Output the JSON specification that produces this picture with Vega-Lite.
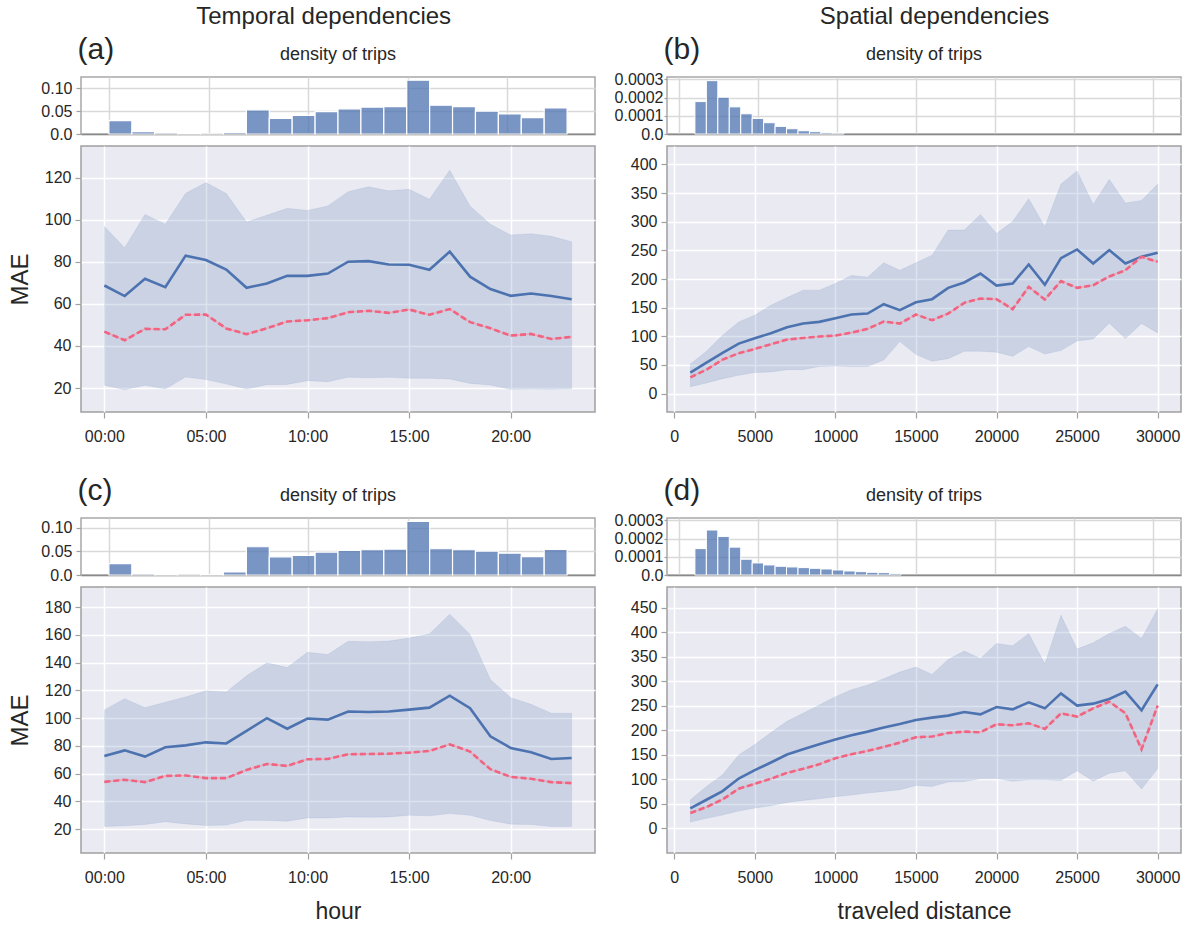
{
 "$schema": "https://vega.github.io/schema/vega-lite/v6.json",
 "padding": {"left": 7, "top": 5, "right": 2, "bottom": 2},
 "background": "white",
 "datasets": {
  "histA": [
   {"b0": 0, "b1": 1.15, "d": 0.0294}, {"b0": 1.15, "b1": 2.3, "d": 0.005}, {"b0": 2.3, "b1": 3.45, "d": 0.003},
   {"b0": 3.45, "b1": 4.6, "d": 0.001}, {"b0": 4.6, "b1": 5.75, "d": 0.0005}, {"b0": 5.75, "b1": 6.9, "d": 0.0035},
   {"b0": 6.9, "b1": 8.05, "d": 0.053}, {"b0": 8.05, "b1": 9.2, "d": 0.034}, {"b0": 9.2, "b1": 10.35, "d": 0.041},
   {"b0": 10.35, "b1": 11.5, "d": 0.049}, {"b0": 11.5, "b1": 12.65, "d": 0.055}, {"b0": 12.65, "b1": 13.8, "d": 0.059},
   {"b0": 13.8, "b1": 14.95, "d": 0.060}, {"b0": 14.95, "b1": 16.1, "d": 0.118}, {"b0": 16.1, "b1": 17.25, "d": 0.063},
   {"b0": 17.25, "b1": 18.4, "d": 0.060}, {"b0": 18.4, "b1": 19.55, "d": 0.050}, {"b0": 19.55, "b1": 20.7, "d": 0.044},
   {"b0": 20.7, "b1": 21.85, "d": 0.036}, {"b0": 21.85, "b1": 23, "d": 0.057}
  ],
  "histC": [
   {"b0": 0, "b1": 1.15, "d": 0.0243}, {"b0": 1.15, "b1": 2.3, "d": 0.003}, {"b0": 2.3, "b1": 3.45, "d": 0.001},
   {"b0": 3.45, "b1": 4.6, "d": 0.0003}, {"b0": 4.6, "b1": 5.75, "d": 0.0008}, {"b0": 5.75, "b1": 6.9, "d": 0.0064},
   {"b0": 6.9, "b1": 8.05, "d": 0.060}, {"b0": 8.05, "b1": 9.2, "d": 0.0386}, {"b0": 9.2, "b1": 10.35, "d": 0.0414},
   {"b0": 10.35, "b1": 11.5, "d": 0.0486}, {"b0": 11.5, "b1": 12.65, "d": 0.052}, {"b0": 12.65, "b1": 13.8, "d": 0.0536},
   {"b0": 13.8, "b1": 14.95, "d": 0.055}, {"b0": 14.95, "b1": 16.1, "d": 0.1136}, {"b0": 16.1, "b1": 17.25, "d": 0.0557},
   {"b0": 17.25, "b1": 18.4, "d": 0.0536}, {"b0": 18.4, "b1": 19.55, "d": 0.0507}, {"b0": 19.55, "b1": 20.7, "d": 0.0464},
   {"b0": 20.7, "b1": 21.85, "d": 0.039}, {"b0": 21.85, "b1": 23, "d": 0.0543}
  ],
  "histB": [
   {"b0": 1000, "b1": 1725, "d": 0.000178}, {"b0": 1725, "b1": 2450, "d": 0.000293}, {"b0": 2450, "b1": 3175, "d": 0.000202},
   {"b0": 3175, "b1": 3900, "d": 0.000149}, {"b0": 3900, "b1": 4625, "d": 0.000111}, {"b0": 4625, "b1": 5350, "d": 0.0000855},
   {"b0": 5350, "b1": 6075, "d": 0.000062}, {"b0": 6075, "b1": 6800, "d": 0.0000418}, {"b0": 6800, "b1": 7525, "d": 0.000029},
   {"b0": 7525, "b1": 8250, "d": 0.000018}, {"b0": 8250, "b1": 8975, "d": 0.0000127}, {"b0": 8975, "b1": 9700, "d": 0.0000073},
   {"b0": 9700, "b1": 10425, "d": 0.0000055}
  ],
  "histD": [
   {"b0": 1000, "b1": 1725, "d": 0.000145}, {"b0": 1725, "b1": 2450, "d": 0.000247}, {"b0": 2450, "b1": 3175, "d": 0.000212},
   {"b0": 3175, "b1": 3900, "d": 0.000153}, {"b0": 3900, "b1": 4625, "d": 0.0000865}, {"b0": 4625, "b1": 5350, "d": 0.0000663},
   {"b0": 5350, "b1": 6075, "d": 0.0000552}, {"b0": 6075, "b1": 6800, "d": 0.0000479}, {"b0": 6800, "b1": 7525, "d": 0.0000442},
   {"b0": 7525, "b1": 8250, "d": 0.0000405}, {"b0": 8250, "b1": 8975, "d": 0.0000368}, {"b0": 8975, "b1": 9700, "d": 0.0000331},
   {"b0": 9700, "b1": 10425, "d": 0.0000276}, {"b0": 10425, "b1": 11150, "d": 0.0000221}, {"b0": 11150, "b1": 11875, "d": 0.0000184},
   {"b0": 11875, "b1": 12600, "d": 0.0000147}, {"b0": 12600, "b1": 13325, "d": 0.0000129}, {"b0": 13325, "b1": 14050, "d": 0.0000074}
  ],
  "mainA": [
   {"x": 0, "blue": 68.7, "red": 46.8, "lo": 21.3, "hi": 96.8},
   {"x": 1, "blue": 63.7, "red": 42.7, "lo": 19.2, "hi": 86.7},
   {"x": 2, "blue": 71.9, "red": 48.1, "lo": 21.3, "hi": 102.5},
   {"x": 3, "blue": 67.9, "red": 47.9, "lo": 19.5, "hi": 97.8},
   {"x": 4, "blue": 82.9, "red": 54.8, "lo": 25.2, "hi": 112.5},
   {"x": 5, "blue": 80.8, "red": 54.9, "lo": 24.0, "hi": 117.6},
   {"x": 6, "blue": 76.3, "red": 48.3, "lo": 21.9, "hi": 112.4},
   {"x": 7, "blue": 67.6, "red": 45.6, "lo": 19.5, "hi": 98.9},
   {"x": 8, "blue": 69.7, "red": 48.4, "lo": 21.6, "hi": 102.1},
   {"x": 9, "blue": 73.3, "red": 51.6, "lo": 21.7, "hi": 105.4},
   {"x": 10, "blue": 73.3, "red": 52.2, "lo": 23.5, "hi": 104.4},
   {"x": 11, "blue": 74.4, "red": 53.2, "lo": 23.0, "hi": 106.5},
   {"x": 12, "blue": 80.0, "red": 56.0, "lo": 25.1, "hi": 113.3},
   {"x": 13, "blue": 80.3, "red": 56.7, "lo": 24.9, "hi": 115.6},
   {"x": 14, "blue": 78.7, "red": 55.7, "lo": 25.1, "hi": 113.7},
   {"x": 15, "blue": 78.6, "red": 57.3, "lo": 24.6, "hi": 114.4},
   {"x": 16, "blue": 76.2, "red": 54.8, "lo": 24.6, "hi": 109.7},
   {"x": 17, "blue": 84.8, "red": 57.5, "lo": 24.3, "hi": 123.5},
   {"x": 18, "blue": 72.9, "red": 51.3, "lo": 22.2, "hi": 106.5},
   {"x": 19, "blue": 67.0, "red": 48.4, "lo": 21.4, "hi": 97.8},
   {"x": 20, "blue": 63.8, "red": 44.9, "lo": 19.4, "hi": 92.7},
   {"x": 21, "blue": 64.9, "red": 45.7, "lo": 19.5, "hi": 93.3},
   {"x": 22, "blue": 63.7, "red": 43.3, "lo": 19.4, "hi": 92.1},
   {"x": 23, "blue": 62.2, "red": 44.3, "lo": 19.7, "hi": 89.5}
  ],
  "mainC": [
   {"x": 0, "blue": 72.8, "red": 54.1, "lo": 21.9, "hi": 106.0},
   {"x": 1, "blue": 76.8, "red": 55.6, "lo": 22.4, "hi": 114.1},
   {"x": 2, "blue": 72.3, "red": 53.9, "lo": 23.3, "hi": 107.6},
   {"x": 3, "blue": 79.0, "red": 58.4, "lo": 25.3, "hi": 111.5},
   {"x": 4, "blue": 80.4, "red": 58.7, "lo": 23.8, "hi": 115.3},
   {"x": 5, "blue": 82.6, "red": 56.8, "lo": 22.6, "hi": 119.8},
   {"x": 6, "blue": 81.8, "red": 56.8, "lo": 22.9, "hi": 118.9},
   {"x": 7, "blue": 90.9, "red": 62.7, "lo": 26.4, "hi": 130.6},
   {"x": 8, "blue": 100.0, "red": 67.0, "lo": 26.2, "hi": 139.9},
   {"x": 9, "blue": 92.4, "red": 65.6, "lo": 25.7, "hi": 136.5},
   {"x": 10, "blue": 99.8, "red": 70.4, "lo": 28.1, "hi": 147.5},
   {"x": 11, "blue": 99.0, "red": 70.6, "lo": 28.1, "hi": 145.9},
   {"x": 12, "blue": 104.8, "red": 74.0, "lo": 28.8, "hi": 155.4},
   {"x": 13, "blue": 104.5, "red": 74.2, "lo": 28.6, "hi": 155.2},
   {"x": 14, "blue": 104.8, "red": 74.4, "lo": 28.8, "hi": 155.6},
   {"x": 15, "blue": 106.2, "red": 75.2, "lo": 30.0, "hi": 157.8},
   {"x": 16, "blue": 107.6, "red": 76.4, "lo": 29.6, "hi": 160.7},
   {"x": 17, "blue": 116.2, "red": 81.1, "lo": 31.2, "hi": 175.0},
   {"x": 18, "blue": 107.2, "red": 75.9, "lo": 30.0, "hi": 160.4},
   {"x": 19, "blue": 86.9, "red": 63.2, "lo": 26.2, "hi": 127.9},
   {"x": 20, "blue": 78.5, "red": 57.7, "lo": 23.6, "hi": 114.8},
   {"x": 21, "blue": 75.4, "red": 56.3, "lo": 23.3, "hi": 110.0},
   {"x": 22, "blue": 70.6, "red": 53.9, "lo": 21.9, "hi": 103.6},
   {"x": 23, "blue": 71.3, "red": 53.2, "lo": 21.9, "hi": 103.6}
  ],
  "mainB": [
   {"x": 1000, "blue": 36.7, "red": 28.5, "lo": 12.2, "hi": 51.8},
   {"x": 2000, "blue": 54.0, "red": 41.9, "lo": 18.6, "hi": 73.9},
   {"x": 3000, "blue": 71.0, "red": 59.4, "lo": 26.2, "hi": 101.9},
   {"x": 4000, "blue": 87.3, "red": 70.5, "lo": 32.0, "hi": 125.2},
   {"x": 5000, "blue": 96.7, "red": 78.0, "lo": 36.7, "hi": 136.8},
   {"x": 6000, "blue": 105.4, "red": 86.2, "lo": 37.8, "hi": 154.3},
   {"x": 7000, "blue": 115.9, "red": 94.3, "lo": 41.9, "hi": 167.7},
   {"x": 8000, "blue": 122.3, "red": 97.2, "lo": 41.9, "hi": 180.5},
   {"x": 9000, "blue": 125.2, "red": 99.6, "lo": 47.2, "hi": 180.5},
   {"x": 10000, "blue": 131.6, "red": 101.3, "lo": 48.3, "hi": 192.1},
   {"x": 11000, "blue": 138.0, "red": 106.5, "lo": 47.2, "hi": 206.1},
   {"x": 12000, "blue": 139.7, "red": 113.0, "lo": 47.2, "hi": 203.2},
   {"x": 13000, "blue": 156.0, "red": 125.8, "lo": 58.8, "hi": 228.2},
   {"x": 14000, "blue": 145.6, "red": 122.3, "lo": 90.8, "hi": 215.4},
   {"x": 15000, "blue": 159.5, "red": 138.0, "lo": 68.1, "hi": 228.2},
   {"x": 16000, "blue": 164.8, "red": 128.1, "lo": 56.5, "hi": 241.6},
   {"x": 17000, "blue": 184.6, "red": 139.7, "lo": 61.1, "hi": 285.3},
   {"x": 18000, "blue": 193.9, "red": 158.4, "lo": 73.9, "hi": 285.3},
   {"x": 19000, "blue": 209.6, "red": 165.9, "lo": 73.9, "hi": 312.7},
   {"x": 20000, "blue": 188.6, "red": 164.8, "lo": 72.2, "hi": 279.5},
   {"x": 21000, "blue": 192.1, "red": 147.3, "lo": 65.2, "hi": 300.4},
   {"x": 22000, "blue": 225.3, "red": 186.3, "lo": 82.1, "hi": 340.0},
   {"x": 23000, "blue": 189.8, "red": 164.2, "lo": 69.3, "hi": 291.1},
   {"x": 24000, "blue": 236.4, "red": 196.2, "lo": 75.1, "hi": 365.6},
   {"x": 25000, "blue": 251.5, "red": 184.6, "lo": 92.0, "hi": 388.4},
   {"x": 26000, "blue": 227.1, "red": 189.2, "lo": 95.5, "hi": 330.1},
   {"x": 27000, "blue": 250.4, "red": 204.4, "lo": 122.9, "hi": 373.8},
   {"x": 28000, "blue": 227.1, "red": 215.4, "lo": 96.1, "hi": 332.5},
   {"x": 29000, "blue": 238.7, "red": 238.7, "lo": 122.3, "hi": 337.1},
   {"x": 30000, "blue": 245.7, "red": 230.0, "lo": 106.0, "hi": 365.6}
  ],
  "mainD": [
   {"x": 1000, "blue": 40.0, "red": 30.5, "lo": 12.2, "hi": 57.7},
   {"x": 2000, "blue": 57.7, "red": 42.8, "lo": 19.7, "hi": 84.8},
   {"x": 3000, "blue": 75.3, "red": 58.4, "lo": 26.5, "hi": 108.6},
   {"x": 4000, "blue": 101.1, "red": 80.1, "lo": 34.6, "hi": 149.3},
   {"x": 5000, "blue": 118.1, "red": 90.3, "lo": 40.7, "hi": 170.4},
   {"x": 6000, "blue": 133.7, "red": 100.5, "lo": 45.5, "hi": 194.8},
   {"x": 7000, "blue": 150.0, "red": 112.7, "lo": 52.3, "hi": 217.9},
   {"x": 8000, "blue": 160.9, "red": 120.8, "lo": 56.3, "hi": 234.2},
   {"x": 9000, "blue": 171.0, "red": 130.3, "lo": 59.7, "hi": 251.1},
   {"x": 10000, "blue": 180.5, "red": 142.5, "lo": 63.8, "hi": 268.1},
   {"x": 11000, "blue": 189.4, "red": 150.7, "lo": 67.2, "hi": 282.4},
   {"x": 12000, "blue": 196.8, "red": 157.5, "lo": 71.3, "hi": 291.9},
   {"x": 13000, "blue": 205.0, "red": 165.6, "lo": 74.7, "hi": 304.8},
   {"x": 14000, "blue": 212.4, "red": 174.4, "lo": 78.1, "hi": 318.3},
   {"x": 15000, "blue": 220.6, "red": 185.3, "lo": 86.9, "hi": 328.5},
   {"x": 16000, "blue": 225.3, "red": 186.7, "lo": 84.8, "hi": 313.6},
   {"x": 17000, "blue": 229.4, "red": 194.1, "lo": 93.7, "hi": 344.1},
   {"x": 18000, "blue": 236.9, "red": 196.8, "lo": 95.0, "hi": 361.1},
   {"x": 19000, "blue": 232.1, "red": 195.5, "lo": 100.5, "hi": 346.2},
   {"x": 20000, "blue": 247.1, "red": 211.8, "lo": 101.1, "hi": 376.7},
   {"x": 21000, "blue": 242.3, "red": 209.7, "lo": 95.7, "hi": 372.0},
   {"x": 22000, "blue": 256.6, "red": 213.8, "lo": 98.4, "hi": 397.1},
   {"x": 23000, "blue": 244.3, "red": 202.3, "lo": 98.4, "hi": 334.6},
   {"x": 24000, "blue": 274.9, "red": 234.2, "lo": 97.1, "hi": 434.4},
   {"x": 25000, "blue": 249.8, "red": 227.4, "lo": 116.7, "hi": 365.2},
   {"x": 26000, "blue": 253.9, "red": 244.3, "lo": 95.7, "hi": 378.1},
   {"x": 27000, "blue": 263.4, "red": 257.9, "lo": 112.0, "hi": 397.1},
   {"x": 28000, "blue": 278.3, "red": 234.2, "lo": 116.7, "hi": 412.0},
   {"x": 29000, "blue": 240.3, "red": 160.9, "lo": 79.4, "hi": 386.9},
   {"x": 30000, "blue": 293.2, "red": 249.8, "lo": 120.8, "hi": 447.3}
  ]
 },
 "hconcat": [
  {
   "title": {"text": "Temporal dependencies", "fontSize": 24, "anchor": "middle", "dx": 22, "offset": 4},
   "spacing": 29,
   "vconcat": [
    {
     "bounds": "flush", "spacing": 12,
     "vconcat": [
      {
       "data": {"name": "histA"}, "width": 514, "height": 57,
       "view": {"fill": "white", "stroke": "#a8a8a8", "strokeWidth": 1.5},
       "title": {"text": "density of trips", "fontSize": 18, "frame": "group", "anchor": "middle", "offset": -30},
       "mark": {"type": "bar", "orient": "vertical", "fill": "#4C72B0", "fillOpacity": 0.75, "stroke": "white", "strokeWidth": 1.2},
       "encoding": {
        "x": {"field": "b0", "type": "quantitative", "scale": {"domain": [-1.15, 24.15], "nice": false, "zero": false},
              "axis": {"values": [0, 5, 10, 15, 20], "labels": false, "ticks": false, "domain": true, "domainColor": "#8a8a8a", "domainWidth": 1.5, "grid": true, "gridColor": "#d9d9d9", "title": null}},
        "x2": {"field": "b1"},
        "y": {"field": "d", "type": "quantitative", "scale": {"domain": [0, 0.125], "nice": false},
              "axis": {"values": [0, 0.05, 0.1], "labelExpr": "datum.value == 0 ? '0.0' : format(datum.value, '.2f')", "grid": true, "gridColor": "#d9d9d9", "tickSize": 5,
                       "title": "(a)", "titleAngle": 0, "titleX": -4, "titleY": -19, "titleAlign": "left", "titleBaseline": "alphabetic", "titleFontSize": 30}},
        "y2": {"datum": 0}
       }
      },
      {
       "data": {"name": "mainA"}, "width": 514, "height": 266,
       "view": {"fill": "#EAEAF2", "stroke": "#a0a0a0", "strokeWidth": 1.5},
       "encoding": {
        "x": {"field": "x", "type": "quantitative", "scale": {"domain": [-1.15, 24.15], "nice": false, "zero": false},
              "axis": {"values": [0, 5, 10, 15, 20], "labelExpr": "(datum.value < 10 ? '0' : '') + datum.value + ':00'", "labelPadding": 10, "grid": true, "gridColor": "white", "title": null}}
       },
       "layer": [
        {"mark": {"type": "area", "fill": "#4C72B0", "fillOpacity": 0.2, "stroke": "#4C72B0", "strokeOpacity": 0.1, "strokeWidth": 1},
         "encoding": {"y": {"field": "lo", "type": "quantitative", "scale": {"domain": [8.6, 135], "nice": false, "zero": false},
                            "axis": {"values": [20, 40, 60, 80, 100, 120], "grid": true, "gridColor": "white", "title": "MAE", "titleFontSize": 24, "titlePadding": 12}},
                      "y2": {"field": "hi"}}},
        {"mark": {"type": "line", "color": "#4C72B0", "strokeWidth": 2.6},
         "encoding": {"y": {"field": "blue", "type": "quantitative", "axis": {"values": [20, 40, 60, 80, 100, 120], "grid": true, "gridColor": "white", "title": "MAE", "titleFontSize": 24, "titlePadding": 12}}}},
        {"mark": {"type": "line", "color": "#e9a9c0", "strokeWidth": 1.6},
         "encoding": {"y": {"field": "red", "type": "quantitative", "axis": {"values": [20, 40, 60, 80, 100, 120], "grid": true, "gridColor": "white", "title": "MAE", "titleFontSize": 24, "titlePadding": 12}}}},
        {"mark": {"type": "line", "color": "#f0647f", "strokeWidth": 2.6, "strokeDash": [6, 3]},
         "encoding": {"y": {"field": "red", "type": "quantitative", "axis": {"values": [20, 40, 60, 80, 100, 120], "grid": true, "gridColor": "white", "title": "MAE", "titleFontSize": 24, "titlePadding": 12}}}}
       ]
      }
     ]
    },
    {
     "bounds": "flush", "spacing": 12,
     "vconcat": [
      {
       "data": {"name": "histC"}, "width": 514, "height": 57,
       "view": {"fill": "white", "stroke": "#a8a8a8", "strokeWidth": 1.5},
       "title": {"text": "density of trips", "fontSize": 18, "frame": "group", "anchor": "middle", "offset": -30},
       "mark": {"type": "bar", "orient": "vertical", "fill": "#4C72B0", "fillOpacity": 0.75, "stroke": "white", "strokeWidth": 1.2},
       "encoding": {
        "x": {"field": "b0", "type": "quantitative", "scale": {"domain": [-1.15, 24.15], "nice": false, "zero": false},
              "axis": {"values": [0, 5, 10, 15, 20], "labels": false, "ticks": false, "domain": true, "domainColor": "#8a8a8a", "domainWidth": 1.5, "grid": true, "gridColor": "#d9d9d9", "title": null}},
        "x2": {"field": "b1"},
        "y": {"field": "d", "type": "quantitative", "scale": {"domain": [0, 0.121], "nice": false},
              "axis": {"values": [0, 0.05, 0.1], "labelExpr": "datum.value == 0 ? '0.0' : format(datum.value, '.2f')", "grid": true, "gridColor": "#d9d9d9", "tickSize": 5,
                       "title": "(c)", "titleAngle": 0, "titleX": -4, "titleY": -19, "titleAlign": "left", "titleBaseline": "alphabetic", "titleFontSize": 30}},
        "y2": {"datum": 0}
       }
      },
      {
       "data": {"name": "mainC"}, "width": 514, "height": 266,
       "view": {"fill": "#EAEAF2", "stroke": "#a0a0a0", "strokeWidth": 1.5},
       "encoding": {
        "x": {"field": "x", "type": "quantitative", "scale": {"domain": [-1.15, 24.15], "nice": false, "zero": false},
              "axis": {"values": [0, 5, 10, 15, 20], "labelExpr": "(datum.value < 10 ? '0' : '') + datum.value + ':00'", "labelPadding": 10, "grid": true, "gridColor": "white", "title": "hour", "titleFontSize": 23, "titlePadding": 15}}
       },
       "layer": [
        {"mark": {"type": "area", "fill": "#4C72B0", "fillOpacity": 0.2, "stroke": "#4C72B0", "strokeOpacity": 0.1, "strokeWidth": 1},
         "encoding": {"y": {"field": "lo", "type": "quantitative", "scale": {"domain": [2.8, 194.6], "nice": false, "zero": false},
                            "axis": {"values": [20, 40, 60, 80, 100, 120, 140, 160, 180], "grid": true, "gridColor": "white", "title": "MAE", "titleFontSize": 24, "titlePadding": 12}},
                      "y2": {"field": "hi"}}},
        {"mark": {"type": "line", "color": "#4C72B0", "strokeWidth": 2.6},
         "encoding": {"y": {"field": "blue", "type": "quantitative", "axis": {"values": [20, 40, 60, 80, 100, 120, 140, 160, 180], "grid": true, "gridColor": "white", "title": "MAE", "titleFontSize": 24, "titlePadding": 12}}}},
        {"mark": {"type": "line", "color": "#e9a9c0", "strokeWidth": 1.6},
         "encoding": {"y": {"field": "red", "type": "quantitative", "axis": {"values": [20, 40, 60, 80, 100, 120, 140, 160, 180], "grid": true, "gridColor": "white", "title": "MAE", "titleFontSize": 24, "titlePadding": 12}}}},
        {"mark": {"type": "line", "color": "#f0647f", "strokeWidth": 2.6, "strokeDash": [6, 3]},
         "encoding": {"y": {"field": "red", "type": "quantitative", "axis": {"values": [20, 40, 60, 80, 100, 120, 140, 160, 180], "grid": true, "gridColor": "white", "title": "MAE", "titleFontSize": 24, "titlePadding": 12}}}}
       ]
      }
     ]
    }
   ]
  },
  {
   "title": {"text": "Spatial dependencies", "fontSize": 24, "anchor": "middle", "dx": 37, "offset": 4},
   "spacing": 29,
   "vconcat": [
    {
     "bounds": "flush", "spacing": 12,
     "vconcat": [
      {
       "data": {"name": "histB"}, "width": 514, "height": 57,
       "view": {"fill": "white", "stroke": "#a8a8a8", "strokeWidth": 1.5},
       "title": {"text": "density of trips", "fontSize": 18, "frame": "group", "anchor": "middle", "offset": -30},
       "mark": {"type": "bar", "orient": "vertical", "fill": "#4C72B0", "fillOpacity": 0.75, "stroke": "white", "strokeWidth": 1},
       "encoding": {
        "x": {"field": "b0", "type": "quantitative", "scale": {"domain": [-450, 31450], "nice": false, "zero": false},
              "axis": {"values": [0, 5000, 10000, 15000, 20000, 25000, 30000], "labels": false, "ticks": false, "domain": true, "domainColor": "#8a8a8a", "domainWidth": 1.5, "grid": true, "gridColor": "#d9d9d9", "title": null}},
        "x2": {"field": "b1"},
        "y": {"field": "d", "type": "quantitative", "scale": {"domain": [0, 0.000313], "nice": false},
              "axis": {"values": [0, 0.0001, 0.0002, 0.0003], "labelExpr": "datum.value == 0 ? '0.0' : format(datum.value, '.4f')", "grid": true, "gridColor": "#d9d9d9", "tickSize": 3, "labelPadding": 1,
                       "title": "(b)", "titleAngle": 0, "titleX": -4, "titleY": -19, "titleAlign": "left", "titleBaseline": "alphabetic", "titleFontSize": 30}},
        "y2": {"datum": 0}
       }
      },
      {
       "data": {"name": "mainB"}, "width": 514, "height": 266,
       "view": {"fill": "#EAEAF2", "stroke": "#a0a0a0", "strokeWidth": 1.5},
       "encoding": {
        "x": {"field": "x", "type": "quantitative", "scale": {"domain": [-450, 31450], "nice": false, "zero": false},
              "axis": {"values": [0, 5000, 10000, 15000, 20000, 25000, 30000], "format": "d", "labelPadding": 10, "grid": true, "gridColor": "white", "title": null}}
       },
       "layer": [
        {"mark": {"type": "area", "fill": "#4C72B0", "fillOpacity": 0.2, "stroke": "#4C72B0", "strokeOpacity": 0.1, "strokeWidth": 1},
         "encoding": {"y": {"field": "lo", "type": "quantitative", "scale": {"domain": [-32, 432], "nice": false, "zero": false},
                            "axis": {"values": [0, 50, 100, 150, 200, 250, 300, 350, 400], "grid": true, "gridColor": "white", "title": null}},
                      "y2": {"field": "hi"}}},
        {"mark": {"type": "line", "color": "#4C72B0", "strokeWidth": 2.6},
         "encoding": {"y": {"field": "blue", "type": "quantitative", "axis": {"values": [0, 50, 100, 150, 200, 250, 300, 350, 400], "grid": true, "gridColor": "white", "title": null}}}},
        {"mark": {"type": "line", "color": "#e9a9c0", "strokeWidth": 1.6},
         "encoding": {"y": {"field": "red", "type": "quantitative", "axis": {"values": [0, 50, 100, 150, 200, 250, 300, 350, 400], "grid": true, "gridColor": "white", "title": null}}}},
        {"mark": {"type": "line", "color": "#f0647f", "strokeWidth": 2.6, "strokeDash": [6, 3]},
         "encoding": {"y": {"field": "red", "type": "quantitative", "axis": {"values": [0, 50, 100, 150, 200, 250, 300, 350, 400], "grid": true, "gridColor": "white", "title": null}}}}
       ]
      }
     ]
    },
    {
     "bounds": "flush", "spacing": 12,
     "vconcat": [
      {
       "data": {"name": "histD"}, "width": 514, "height": 57,
       "view": {"fill": "white", "stroke": "#a8a8a8", "strokeWidth": 1.5},
       "title": {"text": "density of trips", "fontSize": 18, "frame": "group", "anchor": "middle", "offset": -30},
       "mark": {"type": "bar", "orient": "vertical", "fill": "#4C72B0", "fillOpacity": 0.75, "stroke": "white", "strokeWidth": 1},
       "encoding": {
        "x": {"field": "b0", "type": "quantitative", "scale": {"domain": [-450, 31450], "nice": false, "zero": false},
              "axis": {"values": [0, 5000, 10000, 15000, 20000, 25000, 30000], "labels": false, "ticks": false, "domain": true, "domainColor": "#8a8a8a", "domainWidth": 1.5, "grid": true, "gridColor": "#d9d9d9", "title": null}},
        "x2": {"field": "b1"},
        "y": {"field": "d", "type": "quantitative", "scale": {"domain": [0, 0.000313], "nice": false},
              "axis": {"values": [0, 0.0001, 0.0002, 0.0003], "labelExpr": "datum.value == 0 ? '0.0' : format(datum.value, '.4f')", "grid": true, "gridColor": "#d9d9d9", "tickSize": 3, "labelPadding": 1,
                       "title": "(d)", "titleAngle": 0, "titleX": -4, "titleY": -19, "titleAlign": "left", "titleBaseline": "alphabetic", "titleFontSize": 30}},
        "y2": {"datum": 0}
       }
      },
      {
       "data": {"name": "mainD"}, "width": 514, "height": 266,
       "view": {"fill": "#EAEAF2", "stroke": "#a0a0a0", "strokeWidth": 1.5},
       "encoding": {
        "x": {"field": "x", "type": "quantitative", "scale": {"domain": [-450, 31450], "nice": false, "zero": false},
              "axis": {"values": [0, 5000, 10000, 15000, 20000, 25000, 30000], "format": "d", "labelPadding": 10, "grid": true, "gridColor": "white", "title": "traveled distance", "titleFontSize": 23, "titlePadding": 15}}
       },
       "layer": [
        {"mark": {"type": "area", "fill": "#4C72B0", "fillOpacity": 0.2, "stroke": "#4C72B0", "strokeOpacity": 0.1, "strokeWidth": 1},
         "encoding": {"y": {"field": "lo", "type": "quantitative", "scale": {"domain": [-51, 492], "nice": false, "zero": false},
                            "axis": {"values": [0, 50, 100, 150, 200, 250, 300, 350, 400, 450], "grid": true, "gridColor": "white", "title": null}},
                      "y2": {"field": "hi"}}},
        {"mark": {"type": "line", "color": "#4C72B0", "strokeWidth": 2.6},
         "encoding": {"y": {"field": "blue", "type": "quantitative", "axis": {"values": [0, 50, 100, 150, 200, 250, 300, 350, 400, 450], "grid": true, "gridColor": "white", "title": null}}}},
        {"mark": {"type": "line", "color": "#e9a9c0", "strokeWidth": 1.6},
         "encoding": {"y": {"field": "red", "type": "quantitative", "axis": {"values": [0, 50, 100, 150, 200, 250, 300, 350, 400, 450], "grid": true, "gridColor": "white", "title": null}}}},
        {"mark": {"type": "line", "color": "#f0647f", "strokeWidth": 2.6, "strokeDash": [6, 3]},
         "encoding": {"y": {"field": "red", "type": "quantitative", "axis": {"values": [0, 50, 100, 150, 200, 250, 300, 350, 400, 450], "grid": true, "gridColor": "white", "title": null}}}}
       ]
      }
     ]
    }
   ]
  }
 ],
 "spacing": 17,
 "config": {
  "font": "Liberation Sans",
  "axis": {"labelFontSize": 16, "labelColor": "#262626", "labelFont": "Liberation Sans", "titleFont": "Liberation Sans", "titleFontWeight": "normal", "titleColor": "#262626",
           "tickColor": "#a0a0a0", "tickSize": 6, "tickWidth": 1.2, "domain": false, "gridWidth": 1.5, "labelPadding": 4, "labelOverlap": false},
  "title": {"font": "Liberation Sans", "fontWeight": "normal", "color": "#262626"},
  "view": {"stroke": "#a0a0a0"}
 }
}
